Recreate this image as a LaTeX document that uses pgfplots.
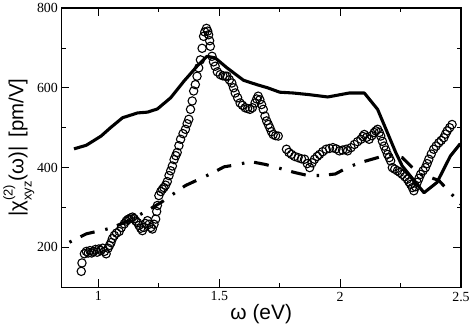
\documentclass[border=0pt]{standalone}
\usepackage{fontspec}
\setmainfont{Liberation Serif}
\newfontfamily\lsans{Liberation Sans}
\usepackage{pgfplots}
\pgfplotsset{compat=1.18}
\begin{document}
\begin{tikzpicture}
\begin{axis}[
  scale only axis,
  width=402pt, height=281pt,
  xmin=0.847, xmax=2.5,
  ymin=100, ymax=800,
  xtick={1,1.5,2,2.5},
  xticklabels={1,1.5,2,2.5},
  ytick={200,400,600,800},
  minor x tick num=1,
  minor y tick num=1,
  tick align=inside,
  major tick length=8pt,
  minor tick length=4.5pt,
  every tick/.style={line width=0.8pt, black},
  axis line style={line width=1.1pt},
  /pgf/number format/assume math mode=true,
  ticklabel style={font=\fontsize{14}{16}\selectfont},
  xticklabel style={yshift=-1pt},
  xlabel={\lsans\fontsize{21}{24}\selectfont ω (eV)},
  ylabel={\lsans\fontsize{20.5}{24}\selectfont |χ\rlap{\raisebox{1.0ex}{\fontsize{13}{14}\selectfont (2)}}\raisebox{-0.75ex}{\fontsize{13}{14}\selectfont xyz}(ω)| \,[pm/V]},
  xlabel style={yshift=4pt},
  ylabel style={yshift=-4pt},
  clip=true,
]
% solid line
\addplot[black, line width=3.1pt, line join=round] coordinates {
(0.899,447) (0.95,456) (1.011,479) (1.05,500) (1.10,525) (1.162,537) (1.203,539)
(1.244,547) (1.299,575) (1.353,616) (1.408,654) (1.449,679) (1.483,675) (1.532,650)
(1.60,619) (1.655,608) (1.70,600) (1.75,589) (1.805,587) (1.87,583) (1.949,577)
(2.038,587) (2.10,587) (2.155,546) (2.196,487) (2.23,438) (2.257,404) (2.30,372)
(2.347,337) (2.401,363) (2.456,429) (2.497,460)
};
% dash-dot line
\addplot[black, line width=3.1pt, dash pattern=on 2.5pt off 10pt on 15pt off 11pt] coordinates {
(0.88,213) (0.95,234) (1.05,248) (1.13,268) (1.21,295) (1.26,313) (1.31,334)
(1.36,355) (1.41,369) (1.47,386) (1.52,402) (1.57,407) (1.63,415) (1.69,408)
(1.74,400) (1.81,388) (1.86,381) (1.92,380) (1.98,384) (2.03,400) (2.08,412)
(2.155,425) (2.20,433) (2.257,425) (2.326,384) (2.37,376) (2.408,368) (2.456,337)
(2.50,308)
};
% circles
\addplot[only marks, mark=o, mark size=4.2pt, mark options={line width=1.1pt, black}] coordinates {
(0.929,140) (0.932,161) (0.942,184) (0.950,190) (0.958,186) (0.965,192) (0.972,186)
(0.980,190) (0.988,195) (0.995,188) (1.002,196) (1.010,192) (1.018,198) (1.025,190)
(1.032,184) (1.040,198) (1.046,205) (1.052,212) (1.058,222) (1.066,230) (1.075,236)
(1.086,240) (1.095,250) (1.107,259) (1.115,266) (1.122,270) (1.127,271) (1.134,274)
(1.141,276) (1.148,272) (1.155,266) (1.162,262) (1.168,255) (1.175,248) (1.182,242)
(1.188,250) (1.195,260) (1.203,267) (1.210,258) (1.217,250) (1.223,246) (1.230,258)
(1.237,271) (1.241,290) (1.244,305) (1.250,330) (1.258,340) (1.265,346) (1.271,350)
(1.278,356) (1.285,365) (1.292,380) (1.299,392) (1.306,404) (1.313,420) (1.320,430)
(1.326,438) (1.333,455) (1.340,471) (1.350,485) (1.360,496) (1.367,510) (1.374,521)
(1.381,546) (1.388,567) (1.394,592) (1.401,608) (1.408,629) (1.415,650) (1.422,670)
(1.429,699) (1.435,729) (1.440,740) (1.447,749) (1.452,742) (1.456,733) (1.460,718)
(1.463,704) (1.470,679) (1.476,665) (1.483,654) (1.492,640) (1.504,633) (1.515,630)
(1.525,629) (1.532,629) (1.542,620) (1.552,612) (1.559,600) (1.566,587) (1.576,575)
(1.586,562) (1.596,556) (1.607,550) (1.617,548) (1.627,546) (1.637,550) (1.648,562)
(1.655,572) (1.661,579) (1.668,570) (1.675,558) (1.682,546) (1.689,529) (1.696,517)
(1.703,508) (1.709,500) (1.716,490) (1.723,483) (1.733,480) (1.744,479)
(1.778,446) (1.788,438) (1.799,433) (1.812,428) (1.826,425) (1.840,422) (1.853,421)
(1.864,410) (1.874,400) (1.884,412) (1.894,421) (1.905,428) (1.915,433) (1.928,440)
(1.942,446) (1.956,448) (1.970,450) (1.983,447) (1.997,442) (2.010,444) (2.025,446)
(2.031,442) (2.045,450) (2.059,458) (2.072,465) (2.086,471) (2.094,478) (2.100,483)
(2.110,476) (2.120,471) (2.131,480) (2.141,488) (2.148,492) (2.155,496) (2.162,488)
(2.168,479) (2.175,466) (2.182,454) (2.189,444) (2.196,433) (2.203,425) (2.209,417)
(2.216,400) (2.226,396) (2.237,392) (2.247,388) (2.257,383) (2.268,377) (2.278,371)
(2.285,364) (2.292,358) (2.299,350) (2.305,342) (2.312,352) (2.319,363) (2.326,373)
(2.333,383) (2.343,392) (2.353,400) (2.360,410) (2.367,421) (2.377,434) (2.387,446)
(2.397,454) (2.408,462) (2.418,468) (2.429,475) (2.436,484) (2.443,492) (2.453,500)
(2.463,508)
};
\end{axis}
\end{tikzpicture}
\end{document}
